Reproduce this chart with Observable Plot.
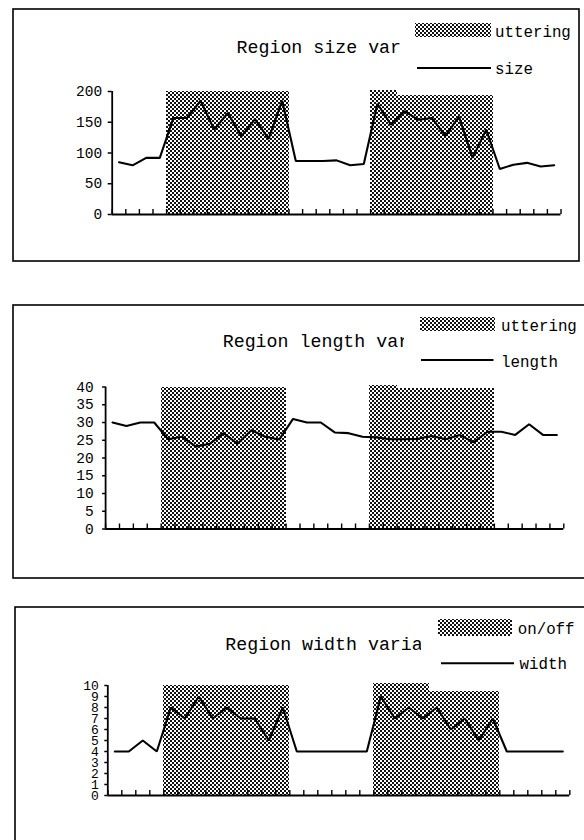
<!DOCTYPE html>
<html><head><meta charset="utf-8">
<script src="https://cdn.jsdelivr.net/npm/d3@7"></script>
<script src="https://cdn.jsdelivr.net/npm/@observablehq/plot@0.6"></script>
<style>
html,body{margin:0;padding:0;background:#fff;}
#page{position:relative;width:584px;height:840px;overflow:hidden;background:#fff;}
#page svg{position:absolute;left:0;background:transparent;}
</style></head><body><div id="page"></div>
<script>
// ---- data ----
const frames = [1,2,3,4,5,6,7,8,9,10,11,12,13,14,15,16,17,18,19,20,21,22,23,24,25,26,27,28,29,30,31,32,33];

const sizeValues = [85,80,92,92,157,157,185,138,165,127,155,123,185,87,87,87,88,80,82,180,146,168,154,157,128,159,92,138,74,81,84,78,80];
const uttering1  = [0,0,0,0,200,200,200,200,200,200,200,200,200,0,0,0,0,0,0,202,202,193,193,193,193,193,193,193,0,0,0,0,0];
const sizeTicks  = [0,50,100,150,200];

const lengthValues = [30,29,30,30,25.3,26,23.2,24,27,24,27.8,26,25.2,31,30,30,27.2,27,26,25.8,25.3,25.3,25.4,26.2,25.3,26.5,24.4,27.4,27.4,26.5,29.5,26.5,26.5];
const uttering2    = [0,0,0,0,40,40,40,40,40,40,40,40,40,0,0,0,0,0,0,40.5,40.5,39.6,39.6,39.6,39.6,39.6,39.6,39.6,0,0,0,0,0];
const lengthTicks  = [0,5,10,15,20,25,30,35,40];

const widthValues = [4,4,5,4,8,7,9,7,8,7,7,5,8,4,4,4,4,4,4,9,7,8,7,8,6,7,5,7,4,4,4,4,4];
const onoff3      = [0,0,0,0,10,10,10,10,10,10,10,10,10,0,0,0,0,0,0,10.15,10.15,10.15,10.15,9.5,9.5,9.5,9.5,9.5,0,0,0,0,0];
const widthTicks  = [0,1,2,3,4,5,6,7,8,9,10];

const titles      = ["Region size var", "Region length var", "Region width varia"];
const barLabels   = ["uttering", "uttering", "on/off"];
const lineLabels  = ["size", "length", "width"];

// ---- layout (page pixel coordinates) ----
const panels = [
  {values: sizeValues, bars: uttering1, ticks: sizeTicks, yMax: 200,
   top: 0, h: 268, x0: 111.7, x1: 560.5, yTopPx: 91, yZeroPx: 214,
   border: [13, 9, 566, 252], title: [236.5, 47], cut: [405, 13, 172, 72],
   swatch: [415, 23, 76, 14], lab1: [495, 31], leg: [417, 491, 68], lab2: [495, 68],
   tickSize: 4, tickPad: 6, tickFont: 14.5},
  {values: lengthValues, bars: uttering2, ticks: lengthTicks, yMax: 40,
   top: 268, h: 322, x0: 105.1, x1: 563.3, yTopPx: 386.5, yZeroPx: 528.5,
   border: [13, 305, 590, 273], title: [222.7, 341], cut: [404, 309, 180, 70],
   swatch: [420, 317, 75, 14], lab1: [501, 325], leg: [421, 493.5, 360], lab2: [501, 361],
   tickSize: 3, tickPad: 9, tickFont: 14.5},
  {values: widthValues, bars: onoff3, ticks: widthTicks, yMax: 10,
   top: 590, h: 250, x0: 107.3, x1: 569.3, yTopPx: 685, yZeroPx: 795,
   border: [15, 607, 590, 260], title: [225.3, 643.3], cut: [421, 611, 163, 62],
   swatch: [437.6, 619.3, 74.4, 16.5], lab1: [517.7, 628.3], leg: [441, 514, 663.3], lab2: [519.5, 663.3],
   tickSize: 3, tickPad: 6, tickFont: 13}
];

const FONT = '"Liberation Mono", "DejaVu Sans Mono", monospace';
const page = document.getElementById("page");

function runs(arr) {
  const out = [];
  arr.forEach((v, i) => {
    if (!v) return;
    const last = out[out.length - 1];
    if (last && last.v === v && last.end === i - 1) last.end = i;
    else out.push({start: i, end: i, v});
  });
  return out;
}

panels.forEach((P, pi) => {
  const pid = "ht" + pi;
  const innerH = P.yZeroPx - P.yTopPx;
  const n = frames.length;
  const bounds = frames.map((f, i) => i - 0.5).concat([n - 0.5]);
  const chart = Plot.plot({
    width: 584,
    height: P.h,
    marginLeft: P.x0,
    marginRight: 584 - P.x1,
    marginTop: P.yTopPx - P.top,
    marginBottom: P.top + P.h - P.yZeroPx,
    x: {domain: [-0.5, n - 0.5], axis: null},
    y: {domain: [0, P.yMax]},
    style: {fontFamily: FONT, fontSize: P.tickFont + "px", color: "#000", background: "transparent", overflow: "visible"},
    marks: [
      Plot.rectY(runs(P.bars), {x1: d => d.start - 0.5, x2: d => d.end + 0.5, y1: 0, y2: d => d.v,
        fill: `url(#${pid})`, shapeRendering: "crispEdges"}),
      Plot.ruleX(bounds, {x: d => d, insetTop: innerH - 5, stroke: "#000", strokeWidth: 1.4}),
      Plot.ruleY([0], {stroke: "#000", strokeWidth: 2}),
      Plot.ruleX([-0.5], {stroke: "#000", strokeWidth: 1.8}),
      Plot.axisY({ticks: P.ticks, tickSize: P.tickSize, tickPadding: P.tickPad, fontSize: P.tickFont,
        label: null, stroke: "#000", fill: "#000", strokeWidth: 1.5}),
      Plot.lineY(P.values, {x: (d, i) => i, y: d => d, stroke: "#000", strokeWidth: 2.1, strokeLinejoin: "miter"})
    ]
  });
  chart.style.top = P.top + "px";
  page.appendChild(chart);

  const svg = d3.select(chart);
  const T = P.top;
  const defs = svg.insert("defs", ":first-child");
  const pat = defs.append("pattern").attr("id", pid).attr("width", 4).attr("height", 4)
    .attr("patternUnits", "userSpaceOnUse");
  pat.append("rect").attr("width", 4).attr("height", 4).attr("fill", "#fff");
  pat.append("rect").attr("width", 2).attr("height", 2).attr("fill", "#111");
  pat.append("rect").attr("x", 2).attr("y", 2).attr("width", 2).attr("height", 2).attr("fill", "#111");

  // panel border
  svg.append("rect").attr("x", P.border[0]).attr("y", P.border[1] - T)
    .attr("width", P.border[2]).attr("height", P.border[3])
    .attr("fill", "none").attr("stroke", "#000").attr("stroke-width", 1.6);

  const g = svg.append("g").attr("text-anchor", "start").attr("font-family", FONT);
  // title (partly hidden behind the legend box, as in the original)
  g.append("text").attr("x", P.title[0]).attr("y", P.title[1] - T).attr("dy", "0.35em")
    .attr("font-size", 18.3).attr("fill", "#000").text(titles[pi]);
  g.append("rect").attr("x", P.cut[0]).attr("y", P.cut[1] - T).attr("width", P.cut[2]).attr("height", P.cut[3])
    .attr("fill", "#fff");

  // legend
  g.append("rect").attr("x", P.swatch[0]).attr("y", P.swatch[1] - T)
    .attr("width", P.swatch[2]).attr("height", P.swatch[3]).attr("fill", `url(#${pid})`)
    .attr("shape-rendering", "crispEdges");
  g.append("text").attr("x", P.lab1[0]).attr("y", P.lab1[1] - T).attr("dy", "0.35em")
    .attr("font-size", 15.8).attr("fill", "#000").text(barLabels[pi]);
  g.append("line").attr("x1", P.leg[0]).attr("x2", P.leg[1]).attr("y1", P.leg[2] - T).attr("y2", P.leg[2] - T)
    .attr("stroke", "#000").attr("stroke-width", 2);
  g.append("text").attr("x", P.lab2[0]).attr("y", P.lab2[1] - T).attr("dy", "0.35em")
    .attr("font-size", 15.8).attr("fill", "#000").text(lineLabels[pi]);
});
</script>
</body></html>
